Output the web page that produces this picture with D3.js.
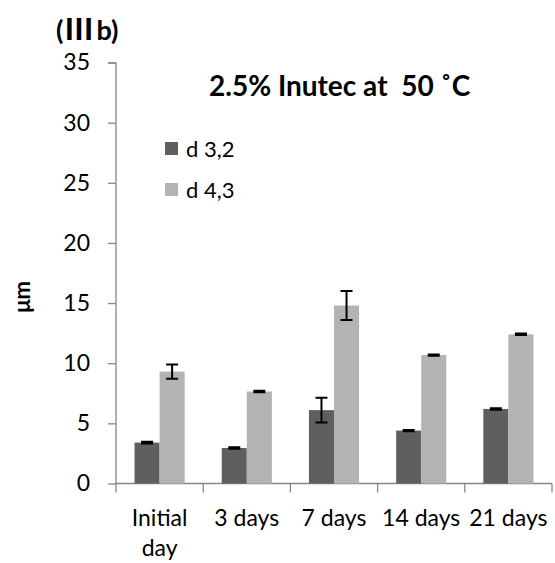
<!DOCTYPE html>
<html>
<head>
<meta charset="utf-8">
<script src="https://cdn.jsdelivr.net/npm/d3@7"></script>
<style>
  body { margin: 0; background: #fff; }
  svg { display: block; font-family: Lato, "Open Sans", sans-serif; }
</style>
</head>
<body>
<div class="container"></div>
<script>
// DATA
const categories = [["Initial", "day"], ["3 days"], ["7 days"], ["14 days"], ["21 days"]];
const seriesNames = ["d 3,2", "d 4,3"];
const d32 = [3.4, 2.95, 6.1, 4.4, 6.2];
const d43 = [9.3, 7.65, 14.8, 10.68, 12.4];
const d32Err = [0.08, 0.06, 1.02, 0.05, 0.06];
const d43Err = [0.6, 0.06, 1.2, 0.05, 0.06];
const yTicks = [0, 5, 10, 15, 20, 25, 30, 35];

const colors = ["#5f5f5f", "#b3b3b3"];

// canvas
const W = 555, H = 563;
const margin = { top: 62.5, right: 3, bottom: 79.5, left: 116 };
const width = W - margin.left - margin.right;
const hight = H - margin.top - margin.bottom;

const canvas = d3.select('.container')
    .append('svg')
    .attr('width', W)
    .attr('height', H);

const group = canvas.append('g')
    .attr('transform', `translate(${margin.left}, ${margin.top})`);

// scales
const keys = categories.map(c => c.join(" "));
const xScale = d3.scaleBand()
    .domain(keys)
    .range([0, width])
    .paddingInner(0)
    .paddingOuter(0);

const xInner = d3.scaleBand()
    .domain(seriesNames)
    .range([0, xScale.bandwidth()])
    .paddingOuter(0.74);

const yScale = d3.scaleLinear()
    .domain([0, 35])
    .range([hight, 0]);

// y axis
const yAxis = group.append('g')
    .call(d3.axisLeft(yScale).tickValues(yTicks).tickSize(8).tickPadding(18));
yAxis.selectAll('line, path').attr('stroke', '#868686').attr('stroke-width', 1.3);
yAxis.select('.domain').attr('d', `M-8,0.5H0V${hight}`);
yAxis.selectAll('text')
    .attr('fill', '#000')
    .style('font-size', '23px')
    .style('font-family', 'Lato, sans-serif');

// x axis, ticks between categories
const xAxis = group.append('g')
    .attr('transform', `translate(0, ${hight})`);
xAxis.append('path')
    .attr('d', `M0,0H${width}`)
    .attr('stroke', '#868686')
    .attr('stroke-width', 1.3);
const bounds = keys.map(k => xScale(k)).concat([width]);
xAxis.selectAll('line.tick')
    .data(bounds)
    .enter()
    .append('line')
    .attr('x1', d => d).attr('x2', d => d)
    .attr('y1', 0).attr('y2', 9)
    .attr('stroke', '#868686')
    .attr('stroke-width', 1.3);

// category labels (two lines for the first)
const labels = xAxis.selectAll('text.cat')
    .data(categories)
    .enter()
    .append('text')
    .attr('class', 'cat')
    .attr('text-anchor', 'middle')
    .attr('x', (d, i) => xScale(keys[i]) + xScale.bandwidth() / 2)
    .attr('y', 42)
    .style('font-size', '23px');
labels.selectAll('tspan')
    .data(d => d)
    .enter()
    .append('tspan')
    .attr('x', function () { return d3.select(this.parentNode).attr('x'); })
    .attr('dy', (d, i) => i === 0 ? 0 : 30)
    .text(d => d);

// bars
const rows = keys.map((k, i) => ({ key: k, vals: [d32[i], d43[i]], errs: [d32Err[i], d43Err[i]] }));

const cats = group.selectAll('g.cat')
    .data(rows)
    .enter()
    .append('g')
    .attr('transform', d => `translate(${xScale(d.key)}, 0)`);

const pts = cats.selectAll('g.pt')
    .data(d => seriesNames.map((s, j) => ({ s, v: d.vals[j], e: d.errs[j], j })))
    .enter()
    .append('g');

pts.append('rect')
    .attr('x', d => xInner(d.s))
    .attr('y', d => yScale(d.v))
    .attr('width', xInner.bandwidth())
    .attr('height', d => hight - yScale(d.v))
    .attr('fill', d => colors[d.j]);

// error bars
const cap = 6;
pts.append('path')
    .attr('d', d => {
        const cx = xInner(d.s) + xInner.bandwidth() / 2;
        const y1 = yScale(d.v + d.e), y2 = yScale(d.v - d.e);
        return `M${cx},${y1}V${y2}M${cx - cap},${y1}H${cx + cap}M${cx - cap},${y2}H${cx + cap}`;
    })
    .attr('stroke', '#000')
    .attr('stroke-width', 2)
    .attr('fill', 'none');

// legend
const legend = canvas.append('g')
    .attr('transform', 'translate(165, 142)');
const li = legend.selectAll('g')
    .data(seriesNames)
    .enter()
    .append('g')
    .attr('transform', (d, i) => `translate(0, ${i * 41})`);
li.append('rect')
    .attr('width', 13).attr('height', 13)
    .attr('fill', (d, i) => colors[i]);
li.append('text')
    .attr('x', 21).attr('y', 15)
    .style('font-size', '22px')
    .text(d => d);

// titles
canvas.append('text')
    .attr('x', 209).attr('y', 96)
    .style('font-size', '28px')
    .style('font-weight', 'bold')
    .attr('xml:space', 'preserve')
    .text('2.5% Inutec at  50 ˚C');

const tag = canvas.append('text')
    .attr('x', 56).attr('y', 40)
    .style('font-size', '27px')
    .style('font-weight', 'bold');
tag.append('tspan').text('(');
tag.append('tspan')
    .style('font-family', '"Noto Sans CJK JP"')
    .style('font-size', '29px')
    .attr('dx', 1)
    .text('Ⅲ');
tag.append('tspan').attr('dx', 3).text('b)');

canvas.append('text')
    .attr('transform', 'translate(30, 297) rotate(-90)')
    .attr('text-anchor', 'middle')
    .style('font-size', '22px')
    .style('font-weight', 'bold')
    .text('μm');
</script>
</body>
</html>
